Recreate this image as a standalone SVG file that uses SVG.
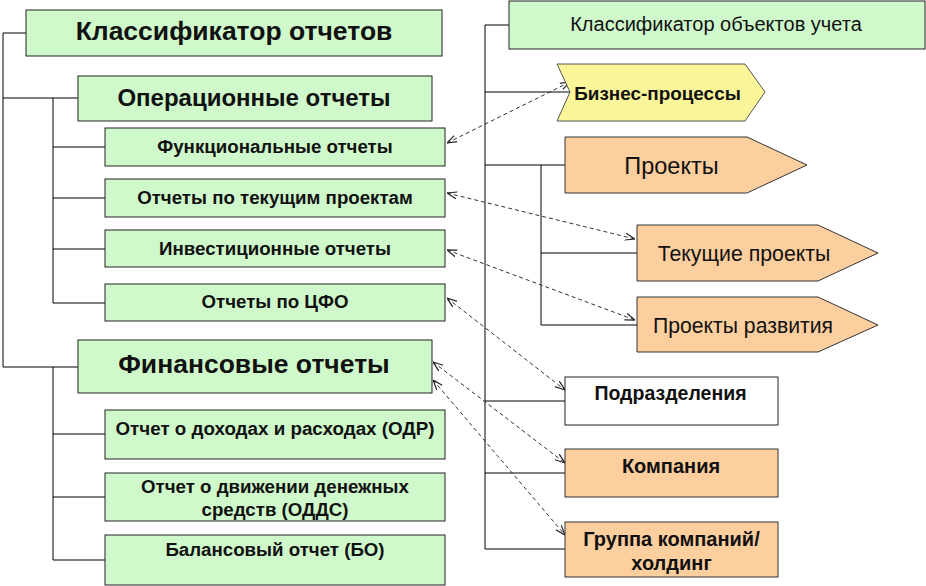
<svg xmlns="http://www.w3.org/2000/svg" width="926" height="586" viewBox="0 0 926 586">
<defs>
<style>
.g{fill:#cff8cb;stroke:#222;stroke-width:1}
.o{fill:#fdcf9e;stroke:#333;stroke-width:1}
.y{fill:#fbf59a;stroke:#555;stroke-width:1}
.w{fill:#fff;stroke:#222;stroke-width:1}
.t{font-family:"Liberation Sans",Arial,sans-serif;fill:#111;text-anchor:middle}
.b{font-weight:bold}
.ln{fill:none;stroke:#000;stroke-width:1}
.d{fill:none;stroke:#333;stroke-width:1;stroke-dasharray:4 3;marker-start:url(#ah);marker-end:url(#ah)}
</style>
<marker id="ah" viewBox="0 0 10 10" refX="10" refY="5" markerWidth="10" markerHeight="10" markerUnits="userSpaceOnUse" orient="auto-start-reverse">
<path d="M0,1.5 L10,5 L0,8.5" fill="none" stroke="#222" stroke-width="1.2"/>
</marker>
</defs>
<rect width="926" height="586" fill="#fff"/>
<g id="connectors">
<path class="ln" d="M26,33 H3 V367 H78 M3,98 H78 M53,98 V303 M53,147 H105 M53,198 H105 M53,249 H105 M53,303 H105 M53,367 V560 M53,434 H105 M53,497 H105 M53,560 H105"/>
<path class="ln" d="M509,25 H485 V549 H565 M485,92 H570 M485,165 H565 M541,165 V325 H637 M541,253 H637 M485,401 H565 M485,473 H565"/>
<path class="d" d="M447,143 L570,82"/>
<path class="d" d="M447,193 L635,239"/>
<path class="d" d="M447,250 L635,320"/>
<path class="d" d="M447,298 L565,390"/>
<path class="d" d="M433,362 L565,463"/>
<path class="d" d="M433,380 L565,535"/>
</g>
<g id="n-klass-otch"><rect class="g" x="26" y="10" width="416" height="46"/><text class="t b" x="234" y="39.5" font-size="26.5">Классификатор отчетов</text></g>
<g id="n-oper"><rect class="g" x="78" y="76" width="354" height="45"/><text class="t b" x="254" y="105.5" font-size="24">Операционные отчеты</text></g>
<g id="n-func"><rect class="g" x="105" y="128" width="340" height="38"/><text class="t b" x="275" y="152.5" font-size="18.7">Функциональные отчеты</text></g>
<g id="n-tek"><rect class="g" x="105" y="179" width="340" height="38"/><text class="t b" x="275" y="203.5" font-size="18.7">Отчеты по текущим проектам</text></g>
<g id="n-inv"><rect class="g" x="105" y="230" width="340" height="37"/><text class="t b" x="275" y="254.5" font-size="18.7">Инвестиционные отчеты</text></g>
<g id="n-cfo"><rect class="g" x="105" y="284" width="340" height="37"/><text class="t b" x="275" y="307.5" font-size="18.7">Отчеты по ЦФО</text></g>
<g id="n-fin"><rect class="g" x="78" y="340" width="354" height="53"/><text class="t b" x="254" y="372.5" font-size="26.5">Финансовые отчеты</text></g>
<g id="n-odr"><rect class="g" x="105" y="410" width="340" height="49"/><text class="t b" x="275" y="434.5" font-size="18.8">Отчет о доходах и расходах (ОДР)</text></g>
<g id="n-odds"><rect class="g" x="105" y="473" width="340" height="48"/><text class="t b" x="275" y="492.5" font-size="18.7">Отчет о движении денежных</text><text class="t b" x="275" y="515.5" font-size="18.7">средств (ОДДС)</text></g>
<g id="n-bo"><rect class="g" x="105" y="535" width="340" height="50"/><text class="t b" x="275" y="555.5" font-size="18.7">Балансовый отчет (БО)</text></g>
<g id="n-klass-obj"><rect class="g" x="509" y="1" width="416" height="48"/><text class="t" x="716" y="31" font-size="20">Классификатор объектов учета</text></g>
<g id="n-bp"><path class="y" d="M557,64 H745 L765,92 L745,121 H557 L570,92 Z"/><text class="t b" x="657.5" y="99.5" font-size="18.9">Бизнес-процессы</text></g>
<g id="n-proj"><path class="o" d="M565,137 H747 L807,165 L747,193 H565 Z"/><text class="t" x="671.5" y="173.5" font-size="23.5">Проекты</text></g>
<g id="n-tekproj"><path class="o" d="M637,225 H818 L878,253 L818,281 H637 Z"/><text class="t" x="744" y="260.5" font-size="21.3">Текущие проекты</text></g>
<g id="n-razv"><path class="o" d="M637,297 H818 L878,325 L818,352 H637 Z"/><text class="t" x="743" y="332.5" font-size="21.2">Проекты развития</text></g>
<g id="n-podr"><rect class="w" x="565" y="377" width="213" height="48"/><text class="t b" x="670.5" y="400" font-size="19.5">Подразделения</text></g>
<g id="n-komp"><rect class="o" x="565" y="449" width="213" height="48"/><text class="t b" x="671" y="473" font-size="20">Компания</text></g>
<g id="n-grp"><rect class="o" x="565" y="522" width="213" height="55"/><text class="t b" x="671.5" y="546" font-size="20">Группа компаний/</text><text class="t b" x="671.5" y="570" font-size="20">холдинг</text></g>
</svg>
